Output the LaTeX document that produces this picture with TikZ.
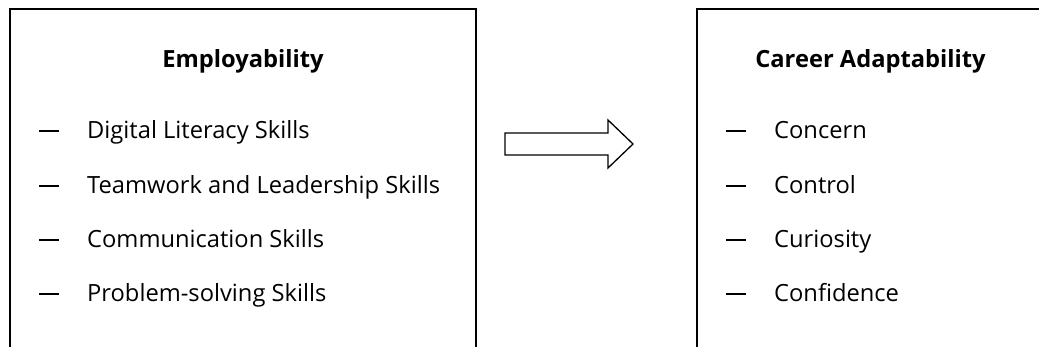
\documentclass[tikz,border=0pt]{standalone}
\usepackage{fontspec}
\setmainfont{Open Sans}
\begin{document}
\begin{tikzpicture}[x=1pt,y=-1pt,
  boxline/.style={line width=2pt,black},
  title/.style={anchor=base,inner sep=0pt,font=\fontsize{23.7}{27}\selectfont\bfseries},
  item/.style={anchor=base west,inner sep=0pt,font=\fontsize{23.7}{27}\selectfont},
  bar/.style={line width=2pt,black}]
\useasboundingbox (0,0) rectangle (1039,347);
\clip (0,0) rectangle (1039,347);
\fill[white] (0,0) rectangle (1039,347);
% left box
\coordinate (LBL) at (10,360);
\coordinate (LTL) at (10,9);
\coordinate (LTR) at (476,9);
\coordinate (LBR) at (476,360);
\draw[boxline] (LBL) -- (LTL) -- (LTR) -- (LBR);
% right box
\coordinate (RBL) at (697,360);
\coordinate (RTL) at (697,9);
\coordinate (RTR) at (1050,9);
\draw[boxline] (RBL) -- (RTL) -- (RTR);
% titles
\node[title] (t1) at (243,68) {Employability};
\node[title] (t2) at (870.5,68) {Career Adaptability};
% left items
\foreach \i/\y/\txt in {0/131/Digital Literacy Skills,1/186/Teamwork and Leadership Skills,2/240/Communication Skills,3/294/Problem-solving Skills}{
  \node[item] (l\i) at (87,\y+8) {\txt};
  \draw[bar] (39,\y) -- (59,\y);
}
\foreach \i/\y/\txt in {0/131/Concern,1/186/Control,2/240/Curiosity,3/294/Confidence}{
  \node[item] (r\i) at (774,\y+8) {\txt};
  \draw[bar] (726,\y) -- (746,\y);
}
% block arrow
\draw[line width=1.3pt,fill=white]
  (505,133) -- (608,133) -- (608,120) -- (633,144) -- (608,168) -- (608,155) -- (505,155) -- cycle;
\end{tikzpicture}
\end{document}
